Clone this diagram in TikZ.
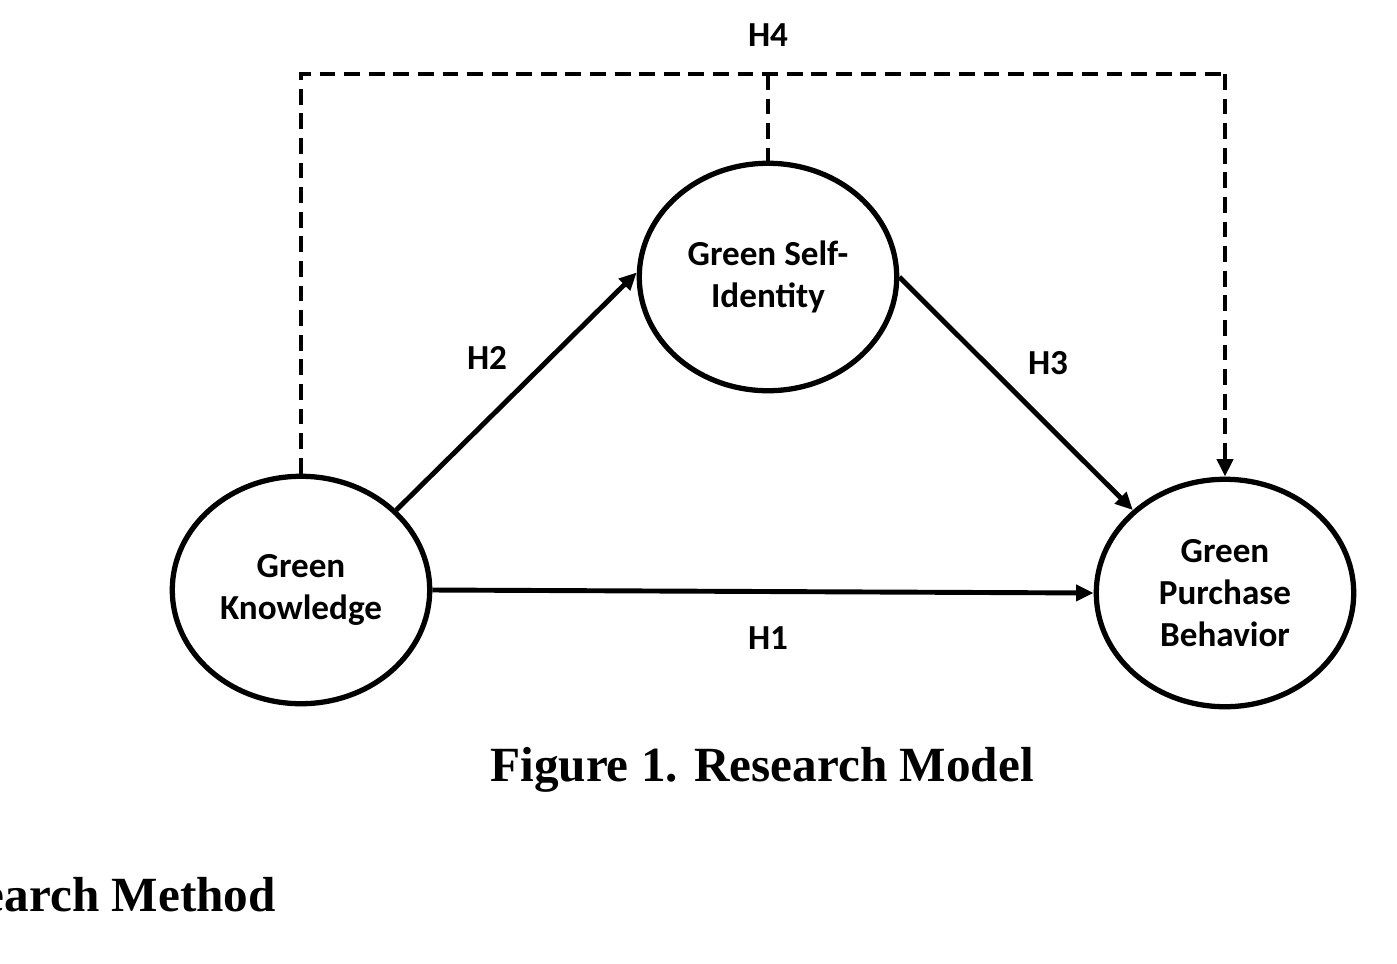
\documentclass[tikz,border=0pt]{standalone}
\usepackage{fontspec}
\setmainfont{Liberation Serif}
\newfontfamily\calib{Carlito}
\usetikzlibrary{arrows.meta,shapes.geometric}
\begin{document}
\begin{tikzpicture}[x=0.02cm,y=-0.02cm,
  construct/.style={ellipse,draw,line width=3pt,minimum width=5.15cm,minimum height=4.55cm,inner sep=0pt,align=center,font=\calib\bfseries\fontsize{20}{24}\selectfont},
  path/.style={line width=2.8pt,-{Triangle[length=10pt,width=9pt]}},
  dpath/.style={line width=2.8pt,dash pattern=on 9pt off 5pt},
  lbl/.style={font=\calib\bfseries\fontsize{20}{24}\selectfont}]
\useasboundingbox (0,0) rectangle (1397,964);

\node[construct] (know) at (301,590) {Green\\Knowledge};
\node[construct] (self) at (768,277) {Green Self-\\Identity};
\node[construct] (buy) at (1225,593) {Green\\Purchase\\Behavior};

\coordinate (tl) at (301,74);
\coordinate (tm) at (768,74);
\coordinate (tr) at (1225,74);

\draw[path] (know.east) -- (buy.west);
\draw[path] (know.40) -- (self.178);
\draw[path] (self.0) -- (buy.138);
\draw[dpath] (know.north) -- (tl) -- (tr);
\draw[dpath,-{Triangle[length=10pt,width=9pt]}] (tr) -- (buy.north);
\draw[dpath] (tm) -- (self.north);

\node[lbl] (h1) at (768,638) {H1};
\node[lbl] (h2) at (487,358) {H2};
\node[lbl] (h3) at (1048,363) {H3};
\node[lbl] (h4) at (768,35) {H4};

\node[font=\bfseries\fontsize{28}{34}\selectfont] (cap) at (762,770) {Figure 1. Research Model};
\node[font=\bfseries\fontsize{28}{34}\selectfont,anchor=east] (sec) at (282,895) {Research Method};
\end{tikzpicture}
\end{document}
